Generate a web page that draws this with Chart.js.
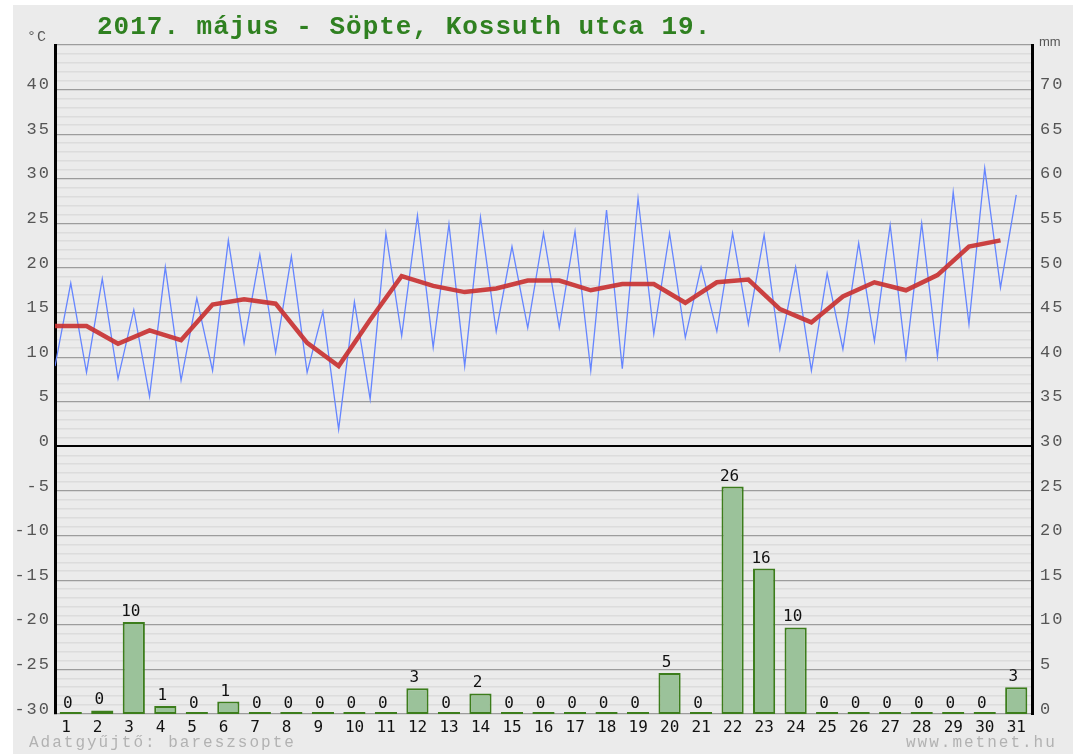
<!DOCTYPE html>
<html>
<head>
<meta charset="utf-8">
<script src="https://cdn.jsdelivr.net/npm/chart.js@4/dist/chart.umd.min.js"></script>
<style>
  html, body { margin: 0; padding: 0; background: #fff; }
  #wrap { width: 1073px; height: 754px; }
</style>
</head>
<body>
<div id="wrap"><canvas id="chart" width="1073" height="754"></canvas></div>
<script>
/* --------------- Data --------------- */
const days = [1, 2, 3, 4, 5, 6, 7, 8, 9, 10, 11, 12, 13, 14, 15, 16, 17, 18, 19, 20, 21, 22, 23, 24, 25, 26, 27, 28, 29, 30, 31];
const tempMin = [9.0, 8.3, 7.6, 5.6, 7.4, 8.5, 11.6, 10.5, 8.3, 1.9, 5.3, 12.4, 11.1, 9.0, 12.9, 13.3,
  13.3, 8.5, 8.7, 12.6, 12.2, 12.9, 13.7, 10.9, 8.5, 10.9, 11.8, 10.0, 10.1, 13.7, 17.8];
const tempMax = [18.3, 18.8, 15.3, 20.1, 16.6, 23.1, 21.5, 21.3, 15.1, 16.2, 23.9, 25.9, 24.9, 25.7, 22.4, 23.9,
  24.1, 26.5, 27.8, 23.9, 20.1, 23.9, 23.7, 20.1, 19.4, 22.8, 24.8, 25.0, 28.5, 31.2, 28.2];
const tempAvg = [13.5, 13.5, 11.5, 13.0, 11.9, 15.9, 16.5, 16.0, 11.6, 9.0, 14.2, 19.1, 18.0, 17.3, 17.7, 18.6,
  18.6, 17.5, 18.2, 18.2, 16.1, 18.4, 18.7, 15.4, 13.9, 16.8, 18.4, 17.5, 19.2, 22.4, 23.1];
const rain = [0, 0.4, 10.3, 0.9, 0, 1.4, 0, 0, 0, 0, 0, 2.9, 0, 2.3, 0, 0, 0, 0, 0, 4.6, 0, 25.5, 16.3, 9.7,
  0, 0, 0, 0, 0, 0, 3.0];
const title = "2017. május - Söpte, Kossuth utca 19.";

/* --------------- Points: min at day start, max at mid-day, rain bar mid-day --------------- */
const bluePts = [];
days.forEach((d, i) => {
  bluePts.push({ x: d - 1, y: tempMin[i] });
  bluePts.push({ x: d - 0.5, y: tempMax[i] });
});
const redPts = days.map((d, i) => ({ x: d - 1, y: tempAvg[i] }));
const barPts = days.map((d, i) => ({ x: d - 0.5, y: rain[i] }));

/* --------------- Background, labels, title --------------- */
const decor = {
  id: "decor",
  beforeDraw(chart) {
    const ctx = chart.ctx;
    ctx.save();
    ctx.fillStyle = "#ffffff";
    ctx.fillRect(0, 0, chart.width, chart.height);
    ctx.fillStyle = "#ebebeb";
    ctx.fillRect(13, 5, chart.width - 13, chart.height - 5);
    ctx.restore();
    ctx.letterSpacing = "2px"; // y axis labels
  },
  afterDatasetsDraw(chart) {
    const ctx = chart.ctx;
    ctx.letterSpacing = "0px";
    const meta = chart.getDatasetMeta(2);
    const y2 = chart.scales.y2;
    ctx.save();
    ctx.font = '16px "DejaVu Sans Mono"';
    ctx.fillStyle = "#111";
    ctx.textAlign = "center";
    ctx.textBaseline = "alphabetic";
    meta.data.forEach((bar, i) => {
      ctx.fillText(String(Math.round(rain[i])), bar.x - 3, y2.getPixelForValue(rain[i]) - 6);
    });
    ctx.restore();
  },
  afterDraw(chart) {
    const ctx = chart.ctx;
    ctx.save();
    ctx.textBaseline = "alphabetic";
    ctx.textAlign = "left";
    ctx.font = 'bold 26px "Liberation Mono"';
    ctx.letterSpacing = "1px";
    ctx.fillStyle = "#2f8020";
    ctx.fillText(title, 97, 34);

    ctx.font = '15px "Liberation Mono"';
    ctx.fillStyle = "#555";
    ctx.fillText("°C", 27, 41);
    ctx.letterSpacing = "0px";
    ctx.font = '13px "Liberation Sans"';
    ctx.fillText("mm", 1039, 46);

    ctx.font = '16px "Liberation Mono"';
    ctx.letterSpacing = "2px";
    ctx.fillStyle = "#b2b2b2";
    ctx.fillText("Adatgyűjtő: bareszsopte", 29, 747);
    ctx.fillText("www.metnet.hu", 906, 747);
    ctx.restore();
  },
};

/* --------------- Chart --------------- */
new Chart(document.getElementById("chart"), {
  type: "line",
  plugins: [decor],
  data: {
    datasets: [
      {
        type: "line",
        data: redPts,
        borderColor: "rgba(200,50,50,0.92)",
        borderWidth: 4.5,
        pointRadius: 0,
        tension: 0,
        yAxisID: "y",
      },
      {
        type: "line",
        data: bluePts,
        borderColor: "#6585ff",
        borderWidth: 1.3,
        pointRadius: 0,
        tension: 0,
        yAxisID: "y",
      },
      {
        type: "bar",
        data: barPts,
        backgroundColor: "#9bc29a",
        borderColor: "#3c7d1c",
        borderWidth: 2,
        borderSkipped: false,
        minBarLength: 2,
        categoryPercentage: 0.8,
        barPercentage: 0.88,
        yAxisID: "y2",
      },
    ],
  },
  options: {
    responsive: false,
    animation: false,
    events: [],
    layout: { padding: { top: 45, left: 0, right: 0, bottom: 0 } },
    plugins: { legend: { display: false }, tooltip: { enabled: false }, title: { display: false } },
    scales: {
      x: {
        type: "linear",
        min: 0,
        max: 31,
        offset: false,
        grid: { display: false, drawTicks: false, offset: false },
        border: { display: false },
        afterFit: (s) => { s.height = 40; },
        afterBuildTicks: (s) => { s.ticks = days.map((d) => ({ value: d - 0.5 })); },
        ticks: {
          z: 1,
          autoSkip: false,
          maxRotation: 0,
          align: "start",
          labelOffset: -9.5,
          padding: 4,
          color: "#111",
          font: { family: "DejaVu Sans Mono", size: 16 },
          callback: (v) => String(v + 0.5),
        },
      },
      y: {
        position: "left",
        min: -30,
        max: 45,
        afterFit: (s) => { s.width = 55; },
        border: { color: "#000", width: 3 },
        grid: {
          drawTicks: false,
          color: (c) => (c.tick.value === 0 ? "#000" : c.tick.value % 5 === 0 ? "#9c9c9c" : "#dcdcdc"),
          lineWidth: (c) => (c.tick.value === 0 ? 2 : c.tick.value % 5 === 0 ? 1.2 : 1.6),
        },
        ticks: {
          stepSize: 1,
          autoSkip: false,
          padding: 4,
          labelOffset: -5,
          color: "#555",
          font: { family: "Liberation Mono", size: 17 },
          callback: (v) => (v % 5 === 0 && v < 45 ? String(v) : ""),
        },
      },
      y2: {
        position: "right",
        min: 0,
        max: 75,
        afterFit: (s) => { s.width = 41; },
        border: { color: "#000", width: 3 },
        grid: { display: false, drawTicks: false },
        ticks: {
          stepSize: 5,
          autoSkip: false,
          padding: 8,
          labelOffset: -5,
          color: "#555",
          font: { family: "Liberation Mono", size: 17 },
          callback: (v) => (v < 75 ? String(v) : ""),
        },
      },
    },
  },
});
</script>
</body>
</html>
